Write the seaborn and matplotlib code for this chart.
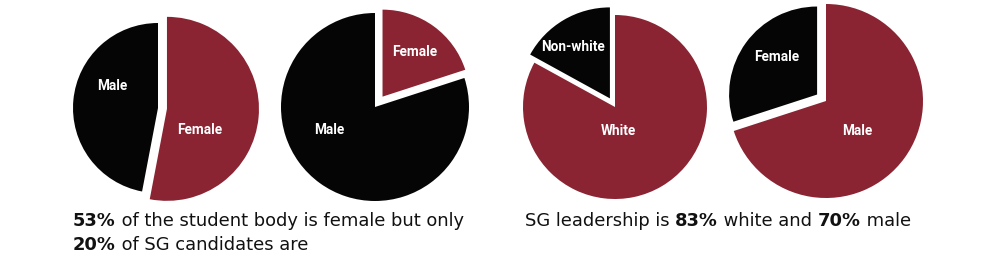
import matplotlib
matplotlib.use("Agg")
import matplotlib.pyplot as plt
import seaborn as sns
from matplotlib import font_manager

sns.set_theme(style="white")

# ---- data ----
student_labels = ["Female", "Male"]
student_values = [53, 47]
candidate_labels = ["Female", "Male"]
candidate_values = [20, 80]
race_labels = ["White", "Non-white"]
race_values = [83, 17]
gender_labels = ["Male", "Female"]
gender_values = [70, 30]

caption_left_1 = [("53%", True), (" of the student body is female but only", False)]
caption_left_2 = [("20%", True), (" of SG candidates are", False)]
caption_right = [("SG leadership is ", False), ("83%", True), (" white and ", False),
                 ("70%", True), (" male", False)]

RED = "#8a2432"
BLACK = "#050505"

W, H = 1000, 265
names = {f.name for f in font_manager.fontManager.ttflist}
label_family = ["Liberation Sans Narrow", "DejaVu Sans"] if "Liberation Sans Narrow" in names else ["Roboto", "DejaVu Sans"]
caption_family = ["DejaVu Sans"]

fig = plt.figure(figsize=(W / 100, H / 100), dpi=100)
ax = fig.add_axes([0, 0, 1, 1])
ax.set_xlim(0, W)
ax.set_ylim(0, H)


def Y(v):
    return H - v


def draw_pie(values, colors, center, radius, explode_idx, explode_px, explode_radius):
    explode = [0] * len(values)
    explode[explode_idx] = explode_px
    wedges, _ = ax.pie(values, colors=colors, center=(center[0], Y(center[1])), radius=radius,
                       explode=explode, startangle=90, counterclock=False, frame=True,
                       wedgeprops=dict(linewidth=0))
    wedges[explode_idx].set_radius(explode_radius)
    return wedges


draw_pie(student_values, [RED, BLACK], (158, 108), 85, 0, 9, 92)
draw_pie(candidate_values, [RED, BLACK], (375, 107), 94, 0, 12.8, 87)
draw_pie(race_values, [RED, BLACK], (615, 107), 92, 1, 10, 91)
draw_pie(gender_values, [RED, BLACK], (826, 101), 97, 1, 11, 88)

ax.set_xlim(0, W)
ax.set_ylim(0, H)
ax.set_aspect("equal")
ax.axis("off")

lab_kw = dict(color="white", fontweight="bold", fontsize=9.8, family=label_family,
              ha="center", va="center")
ax.text(112, Y(86), student_labels[1], **lab_kw)
ax.text(200, Y(130), student_labels[0], **lab_kw)
ax.text(415, Y(52), candidate_labels[0], **lab_kw)
ax.text(329, Y(130), candidate_labels[1], **lab_kw)
ax.text(573, Y(47), race_labels[1], **lab_kw)
ax.text(618, Y(131), race_labels[0], **lab_kw)
ax.text(777, Y(57), gender_labels[1], **lab_kw)
ax.text(857, Y(131), gender_labels[0], **lab_kw)

renderer = fig.canvas.get_renderer()
CAP_SIZE = 12.9


def text_width(txt, bold):
    # width in pixels (= data units here), counting leading / trailing spaces
    kw = dict(fontsize=CAP_SIZE, family=caption_family, fontweight="bold" if bold else "normal")
    t1 = ax.text(0, 0, "I" + txt + "I", **kw)
    t2 = ax.text(0, 0, "II", **kw)
    w = t1.get_window_extent(renderer).width - t2.get_window_extent(renderer).width
    t1.remove()
    t2.remove()
    return w


def caption(parts, x, y):
    for txt, bold in parts:
        ax.text(x, Y(y), txt, fontsize=CAP_SIZE, family=caption_family, color="#111111",
                fontweight="bold" if bold else "normal", va="baseline", ha="left")
        x += text_width(txt, bold)


caption(caption_left_1, 73, 226)
caption(caption_left_2, 73, 250)
caption(caption_right, 525, 226)

fig.savefig("out.png", dpi=100, facecolor="white")
